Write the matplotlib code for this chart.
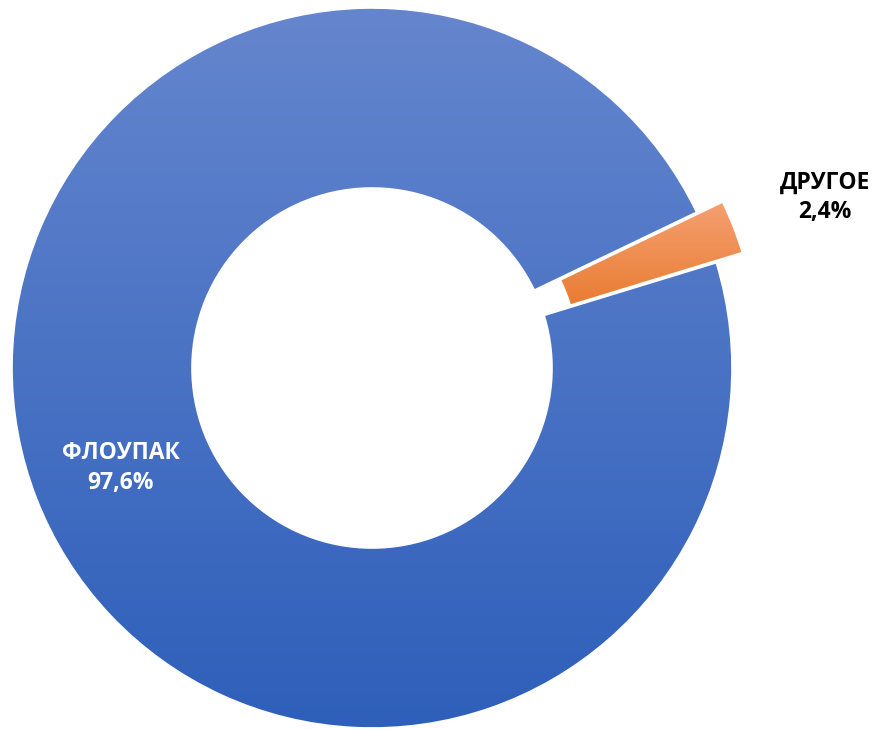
import matplotlib
matplotlib.use("Agg")

import matplotlib.pyplot as plt
import numpy as np
from matplotlib.colors import LinearSegmentedColormap

# Data
labels = ["ФЛОУПАК", "ДРУГОЕ"]
values = [97.6, 2.4]
pct_labels = ["97,6%", "2,4%"]
explode = [0, 28]

# Gradient colours (top -> bottom), like the Excel fill
grad_colors = [("#6586CE", "#2E5FBA"), ("#F4A071", "#E46A12")]
text_colors = ["white", "black"]
label_pos = [(121, 261), (825, 532)]

FONT = ["Open Sans", "DejaVu Sans"]

fig = plt.figure(figsize=(8.79, 7.29), dpi=100)
ax = fig.add_axes([0, 0, 1, 1])

center = (372, 361)
radius = 360

wedges, _ = ax.pie(values, radius=radius, center=center, startangle=17,
                   explode=explode, counterclock=False,
                   wedgeprops=dict(width=180, edgecolor="white", linewidth=1.2))

# pie goes clockwise from 17 deg: the first (big) slice ends where the small one starts
for w, (c_top, c_bot) in zip(wedges, grad_colors):
    verts = w.get_path().vertices
    x0, y0 = verts.min(axis=0)
    x1, y1 = verts.max(axis=0)
    cmap = LinearSegmentedColormap.from_list("g", [c_bot, c_top])
    grad = np.linspace(1, 0, 256).reshape(-1, 1)
    im = ax.imshow(grad, extent=(x0, x1, y0, y1), cmap=cmap, aspect="auto",
                   origin="upper", zorder=2, interpolation="bilinear")
    im.set_clip_path(w)
    w.set_facecolor("none")
    w.set_zorder(3)

for lab, pct, (x, y), col in zip(labels, pct_labels, label_pos, text_colors):
    ax.text(x, y, f"{lab}\n{pct}", ha="center", va="center", color=col,
            fontsize=16.5, fontweight="bold", family=FONT, linespacing=1.3,
            zorder=5)

ax.set_xlim(0, 879)
ax.set_ylim(0, 729)
ax.set_aspect("auto")
ax.axis("off")

fig.savefig("out.png", dpi=100, facecolor="white")
